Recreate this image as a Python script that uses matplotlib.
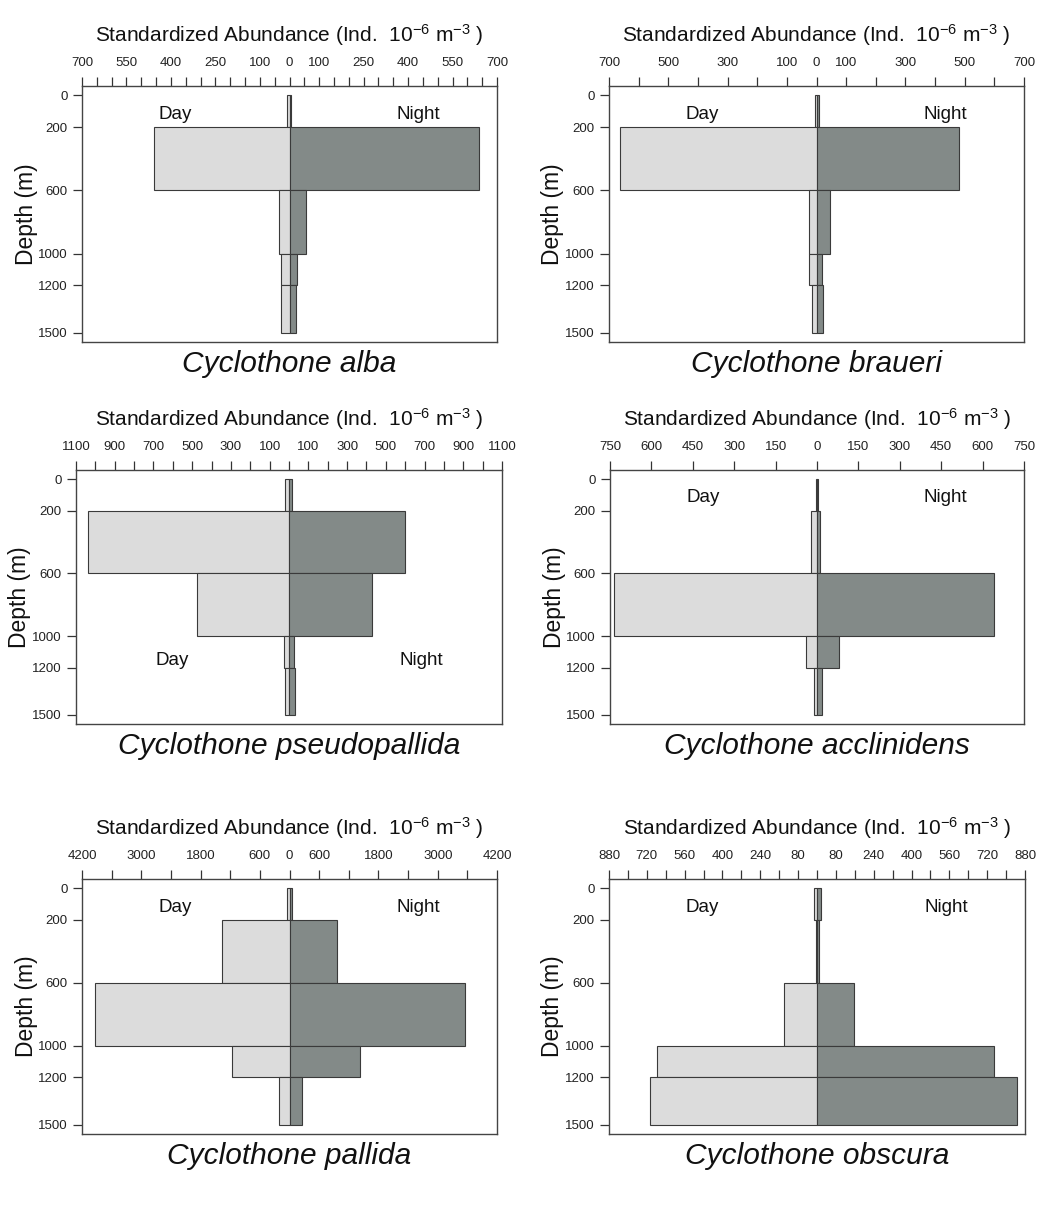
import numpy as np
import matplotlib.pyplot as plt

plt.rcParams['font.family'] = 'Liberation Sans'
plt.rcParams['mathtext.fontset'] = 'custom'
plt.rcParams['mathtext.rm'] = 'Liberation Sans'
plt.rcParams['mathtext.it'] = 'Liberation Sans:italic'

# depth strata (m)
depth_top = [0, 200, 600, 1000, 1200]
depth_bottom = [200, 600, 1000, 1200, 1500]
depth_ticks = [0, 200, 600, 1000, 1200, 1500]

species = ["Cyclothone alba", "Cyclothone braueri",
           "Cyclothone pseudopallida", "Cyclothone acclinidens",
           "Cyclothone pallida", "Cyclothone obscura"]

# standardized abundance per stratum (Ind. 10^-6 m^-3)
alba_day = [8, 456, 35, 28, 28]
alba_night = [5, 640, 56, 26, 22]
braueri_day = [6, 662, 25, 25, 14]
braueri_night = [8, 482, 46, 20, 22]
pseudopallida_day = [20, 1040, 476, 27, 22]
pseudopallida_night = [16, 598, 427, 25, 30]
acclinidens_day = [3, 21, 735, 41, 12]
acclinidens_night = [3, 10, 642, 81, 17]
pallida_day = [50, 1357, 3930, 1167, 209]
pallida_night = [55, 952, 3559, 1418, 243]
obscura_day = [13, 6, 140, 679, 708]
obscura_night = [15, 8, 158, 749, 845]

day_vals = [alba_day, braueri_day, pseudopallida_day,
            acclinidens_day, pallida_day, obscura_day]
night_vals = [alba_night, braueri_night, pseudopallida_night,
              acclinidens_night, pallida_night, obscura_night]

# x axis: half range, tick spacing, labelled ticks
x_limits = [700, 700, 1100, 750, 4200, 880]
tick_steps = [50, 100, 100, 150, 600, 80]
labelled = [
    [-700, -550, -400, -250, -100, 0, 100, 250, 400, 550, 700],
    [-700, -500, -300, -100, 0, 100, 300, 500, 700],
    [-1100, -900, -700, -500, -300, -100, 100, 300, 500, 700, 900, 1100],
    [-750, -600, -450, -300, -150, 0, 150, 300, 450, 600, 750],
    [-4200, -3000, -1800, -600, 0, 600, 1800, 3000, 4200],
    [-880, -720, -560, -400, -240, -80, 80, 240, 400, 560, 720, 880],
]
daynight_y = [0.89, 0.89, 0.25, 0.89, 0.89, 0.89]

day_col = '#dcdcdc'
night_col = '#838a88'
edge_col = '#3a3a3a'

W, H = 1045, 1225
# plot boxes in pixels: left, top, right, bottom
boxes = [(82, 86, 497, 342), (609, 86, 1024, 342),
         (76, 470, 502, 724), (610, 470, 1024, 724),
         (82, 879, 497, 1134), (609, 879, 1025, 1134)]

fig = plt.figure(figsize=(W / 100, H / 100), dpi=100)

heights = np.subtract(depth_bottom, depth_top)

for i, (l, t, r, b) in enumerate(boxes):
    ax = fig.add_axes([l / W, 1 - b / H, (r - l) / W, (b - t) / H])
    bw, bh = r - l, b - t

    ax.barh(depth_top, -np.array(day_vals[i]), height=heights, align='edge',
            color=day_col, edgecolor=edge_col, linewidth=0.8)
    ax.barh(depth_top, night_vals[i], height=heights, align='edge',
            color=night_col, edgecolor=edge_col, linewidth=0.8)

    lim = x_limits[i]
    ax.set_xlim(-lim, lim)
    ax.set_ylim(1560, -60)

    ticks = np.arange(-lim, lim + 1, tick_steps[i])
    ax.xaxis.tick_top()
    ax.set_xticks(ticks)
    ax.set_xticklabels([str(abs(v)) if v in labelled[i] else '' for v in ticks])
    ax.set_yticks(depth_ticks)
    ax.set_yticklabels([str(d) for d in depth_ticks])
    ax.tick_params(axis='both', length=6.5, width=0.9, color='#333333',
                   labelsize=9.5, labelcolor='#222222')
    ax.tick_params(axis='x', pad=6)
    ax.tick_params(axis='y', pad=4)

    for s in ax.spines.values():
        s.set_color('#444444')
        s.set_linewidth(1.0)

    ax.text(0.5, 1 + 51 / bh,
            r'Standardized Abundance (Ind.  $10^{-6}$ m$^{-3}$ )',
            transform=ax.transAxes, ha='center', va='center', fontsize=15,
            color='#111111')
    ax.text(-56 / bw, 0.5, 'Depth (m)', rotation=90, transform=ax.transAxes,
            ha='center', va='center', fontsize=16.5, color='#111111')
    ax.text(0.5, -22 / bh, species[i], style='italic', transform=ax.transAxes,
            ha='center', va='center', fontsize=21.5, color='#111111')
    ax.text(0.225, daynight_y[i], 'Day', transform=ax.transAxes,
            ha='center', va='center', fontsize=13.5, color='#111111')
    ax.text(0.81, daynight_y[i], 'Night', transform=ax.transAxes,
            ha='center', va='center', fontsize=13.5, color='#111111')

fig.savefig('out.png', dpi=100, facecolor='white')
